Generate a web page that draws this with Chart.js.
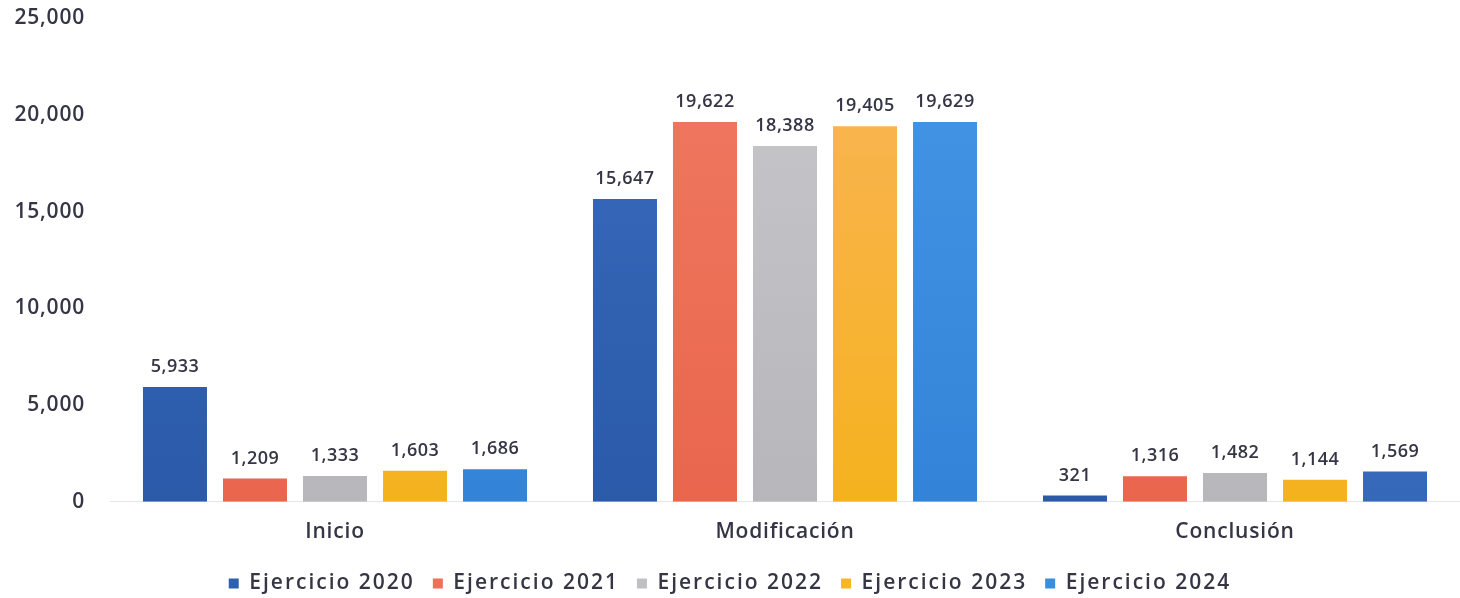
<!DOCTYPE html>
<html>
<head>
<meta charset="utf-8">
<script src="https://cdn.jsdelivr.net/npm/chart.js@4"></script>
<style>
  html, body { margin: 0; padding: 0; background: #fff; }
  #wrap { width: 1460px; height: 598px; }
</style>
</head>
<body>
<div id="wrap"><canvas id="tramites"></canvas></div>
<script>
'use strict';

// categories and series
var categorias = ['Inicio', 'Modificación', 'Conclusión'];
var ej2020 = [5933, 15647, 321];
var ej2021 = [1209, 19622, 1316];
var ej2022 = [1333, 18388, 1482];
var ej2023 = [1603, 19405, 1144];
var ej2024 = [1686, 19629, 1569];
var yTicks = [0, 5000, 10000, 15000, 20000, 25000];

var fontFamily = '"Open Sans", Lato, sans-serif';
var textColor = '#353545';

// vertical gradient helper, light top -> darker bottom
function gradient(chart, top, bottom) {
  var area = chart.chartArea;
  if (!area) return bottom;
  var g = chart.ctx.createLinearGradient(0, area.top, 0, area.bottom);
  g.addColorStop(0, top);
  g.addColorStop(1, bottom);
  return g;
}

function grad(top, bottom) {
  return function(ctx) { return gradient(ctx.chart, top, bottom); };
}

// run fn with a given letter spacing on the canvas
function spaced(ctx, spacing, fn, self, args) {
  var old = ctx.letterSpacing;
  ctx.letterSpacing = spacing;
  var r = fn.apply(self, args);
  ctx.letterSpacing = old;
  return r;
}

// the original font is wider, so space the letters out a little
var wideText = {
  id: 'wideText',
  beforeLayout: function(chart) {
    chart.ctx.letterSpacing = '0.8px';
    var lg = chart.legend;
    if (lg && !lg._wide) {
      lg._wide = true;
      var fit = lg.fit, draw = lg.draw;
      lg.fit = function() { return spaced(chart.ctx, '2px', fit, this, arguments); };
      lg.draw = function() { return spaced(chart.ctx, '2px', draw, this, arguments); };
    }
  },
  beforeDraw: function(chart) { chart.ctx.letterSpacing = '0.8px'; }
};

// value labels on top of the bars
var valueLabels = {
  id: 'valueLabels',
  afterDatasetsDraw: function(chart) {
    var ctx = chart.ctx;
    ctx.save();
    ctx.letterSpacing = '0.5px';
    ctx.font = '600 18px ' + fontFamily;
    ctx.fillStyle = textColor;
    ctx.textAlign = 'center';
    ctx.textBaseline = 'bottom';
    chart.data.datasets.forEach(function(ds, i) {
      chart.getDatasetMeta(i).data.forEach(function(bar, j) {
        ctx.fillText(ds.data[j].toLocaleString('en-US'), bar.x, bar.y - 11);
      });
    });
    ctx.restore();
  }
};

createChart();

function createChart() {
  var ctx = document.getElementById('tramites');
  new Chart(ctx, {
    type: 'bar',
    data: {
      labels: categorias,
      datasets: [
        { label: 'Ejercicio 2020', data: ej2020, backgroundColor: grad('#3a6cbf', '#2a5aa8'), legendColor: '#2f60b0' },
        { label: 'Ejercicio 2021', data: ej2021, backgroundColor: grad('#f07a62', '#e9664d'), legendColor: '#ee7057' },
        { label: 'Ejercicio 2022', data: ej2022, backgroundColor: grad('#c8c8cc', '#b6b6bb'), legendColor: '#c0c0c4' },
        { label: 'Ejercicio 2023', data: ej2023, backgroundColor: grad('#fab45a', '#f5b21e'), legendColor: '#f8b52a' },
        { label: 'Ejercicio 2024', data: ej2024,
          backgroundColor: function(c) {
            // the Conclusión bar is a darker blue in the original
            if (c.dataIndex === 2) return gradient(c.chart, '#4278c8', '#3568b8');
            return gradient(c.chart, '#4496e6', '#3384d8');
          },
          legendColor: '#3a8ee0' }
      ]
    },
    plugins: [wideText, valueLabels],
    options: {
      responsive: true,
      maintainAspectRatio: false,
      animation: false,
      categoryPercentage: 0.889,
      barPercentage: 0.8,
      layout: { padding: { top: 18, right: 0, left: 0, bottom: -6 } },
      plugins: {
        tooltip: { enabled: false },
        legend: {
          position: 'bottom',
          labels: {
            color: textColor,
            font: { family: fontFamily, size: 21, weight: '600' },
            boxWidth: 10,
            boxHeight: 10,
            padding: 18,
            generateLabels: function(chart) {
              return chart.data.datasets.map(function(ds, i) {
                return {
                  text: ds.label,
                  fillStyle: ds.legendColor,
                  strokeStyle: ds.legendColor,
                  lineWidth: 0,
                  datasetIndex: i,
                  fontColor: textColor
                };
              });
            }
          }
        }
      },
      scales: {
        x: {
          grid: { display: false },
          border: { display: true, color: '#e6e6e6' },
          ticks: { color: textColor, font: { family: fontFamily, size: 21, weight: '600' }, padding: 10 }
        },
        y: {
          min: 0,
          max: 25000,
          afterBuildTicks: function(scale) {
            scale.ticks = yTicks.map(function(v) { return { value: v }; });
          },
          afterFit: function(scale) {
            scale.width = 110;
            scale.paddingTop = 0;
          },
          grid: { display: false },
          border: { display: false },
          ticks: {
            color: textColor,
            font: { family: fontFamily, size: 21, weight: '600' },
            padding: 17,
            callback: function(v) { return v.toLocaleString('en-US'); }
          }
        }
      }
    }
  });
}
</script>
</body>
</html>
